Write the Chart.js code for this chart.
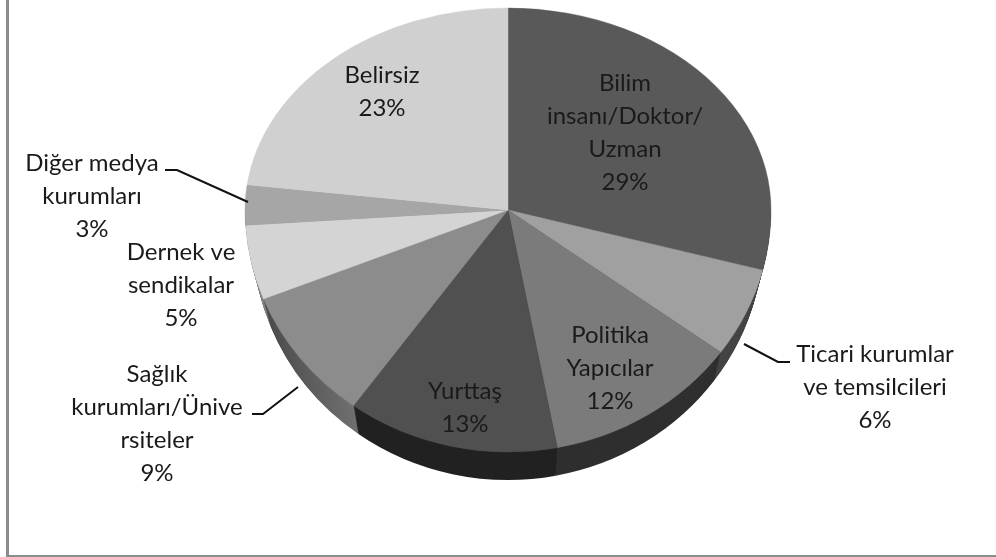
<!DOCTYPE html>
<html lang="tr">
<head>
<meta charset="UTF-8">
<title>Pasta grafik</title>
<script src="https://cdn.jsdelivr.net/npm/chart.js"></script>
<style>
  html, body { margin: 0; padding: 0; background: #fff; overflow: hidden; }
  #wrap { position: relative; width: 996px; height: 557px; overflow: hidden; }
  #frame { position: absolute; left: 6px; top: -10px; width: 1100px; height: 563px; border: solid #8c8c8c; border-width: 2px 3px 2px 3px; }
  canvas { position: absolute; left: 0; top: 0; }
</style>
</head>
<body>
<div id="wrap">
  <div id="frame"></div>
  <canvas id="pasta" width="996" height="557"></canvas>
</div>
<script>
const kategoriler = ['Bilim insanı/Doktor/Uzman', 'Ticari kurumlar ve temsilcileri', 'Politika Yapıcılar', 'Yurttaş',
  'Sağlık kurumları/Üniversiteler', 'Dernek ve sendikalar', 'Diğer medya kurumları', 'Belirsiz'];
const yuzdeler = [29, 6, 12, 13, 9, 5, 3, 23];
const renkler = ['#595959', '#a0a0a0', '#7b7b7b', '#505050', '#8c8c8c', '#d4d4d4', '#a6a6a6', '#d0d0d0'];
const yanRenkler = ['#3c3c3c', '#444444', '#2f2f2f', '#222222', '#5c5c5c', '#808080', '#707070', '#808080'];

// etiket satirlari, x orta nokta, y ilk satir, satir araligi
const etiketSatirlari = [
  ['Bilim', 'insanı/Doktor/', 'Uzman'],
  ['Ticari kurumlar', 've temsilcileri'],
  ['Politika', 'Yapıcılar'],
  ['Yurttaş'],
  ['Sağlık', 'kurumları/Ünive', 'rsiteler'],
  ['Dernek ve', 'sendikalar'],
  ['Diğer medya', 'kurumları'],
  ['Belirsiz']
];
const etiketYer = [[625, 83], [875, 354], [610, 335], [465, 391], [157, 374], [181, 252], [92, 163], [382, 75]];
const klavuzlar = [
  [[790, 362], [778, 362], [744, 344]],
  [[252, 414], [263, 414], [298, 387]],
  [[165, 170], [177, 170], [248, 202]]
];

const MX = 508, MY = 210, RX = 263, UST = 202, ALT = 242, DERINLIK = 28;

function dilim(ctx, arc, renk) {
  ctx.beginPath();
  ctx.moveTo(arc.x, arc.y);
  ctx.arc(arc.x, arc.y, arc.outerRadius, arc.startAngle, arc.endAngle);
  ctx.closePath();
  ctx.fillStyle = renk;
  ctx.fill();
}

const pasta3d = {
  id: 'pasta3d',
  beforeDatasetsDraw(chart) {
    const ctx = chart.ctx;
    const arcs = chart.getDatasetMeta(0).data;
    const r = arcs[0].outerRadius, ox = arcs[0].x, oy = arcs[0].y;

    // saglik diliminin yan yuzeyi soldan saga aciliyor
    const yanGecis = ctx.createLinearGradient(ox - r * 0.92, 0, ox - r * 0.6, 0);
    yanGecis.addColorStop(0, '#4c4c4c');
    yanGecis.addColorStop(1, '#6e6e6e');

    // yan yuzey: alta dogru biraz daralan katmanlar
    for (let d = DERINLIK; d >= 0; d--) {
      ctx.save();
      ctx.beginPath();
      ctx.rect(0, MY, chart.width, chart.height);
      ctx.clip();
      ctx.translate(MX, MY + d);
      ctx.scale((RX / r) * (1 - 0.03 * d / DERINLIK), ALT / r);
      ctx.translate(-ox, -oy);
      arcs.forEach((a, i) => dilim(ctx, a, i === 4 ? yanGecis : yanRenkler[i]));
      ctx.restore();
    }

    // ust yuzey: tepe noktasi elipsin ortasinda degil, iki yarim ayri olcekli
    [[0, MY, UST], [MY, chart.height, ALT]].forEach(([y0, y1, ry]) => {
      ctx.save();
      ctx.beginPath();
      ctx.rect(0, y0, chart.width, y1 - y0);
      ctx.clip();
      ctx.translate(MX, MY);
      ctx.scale(RX / r, ry / r);
      ctx.translate(-ox, -oy);
      arcs.forEach(a => a.draw(ctx));
      ctx.restore();
    });
    return false;
  },
  afterDraw(chart) {
    const ctx = chart.ctx;
    ctx.save();
    ctx.strokeStyle = '#111';
    ctx.lineWidth = 2;
    klavuzlar.forEach(k => {
      ctx.beginPath();
      k.forEach((p, i) => i ? ctx.lineTo(p[0], p[1]) : ctx.moveTo(p[0], p[1]));
      ctx.stroke();
    });
    ctx.font = '24px Lato';
    ctx.fillStyle = '#1a1a1a';
    ctx.textAlign = 'center';
    ctx.textBaseline = 'middle';
    etiketSatirlari.forEach((satirlar, i) => {
      const [x, y] = etiketYer[i];
      satirlar.concat(yuzdeler[i] + '%').forEach((s, j) => ctx.fillText(s, x, y + j * 33));
    });
    ctx.restore();
  }
};

new Chart(document.getElementById('pasta'), {
  type: 'pie',
  data: {
    labels: kategoriler,
    datasets: [{ data: yuzdeler, backgroundColor: renkler, borderColor: renkler, borderWidth: 0.5 }]
  },
  options: {
    responsive: false,
    animation: false,
    plugins: { legend: { display: false }, tooltip: { enabled: false } }
  },
  plugins: [pasta3d]
});
</script>
</body>
</html>
